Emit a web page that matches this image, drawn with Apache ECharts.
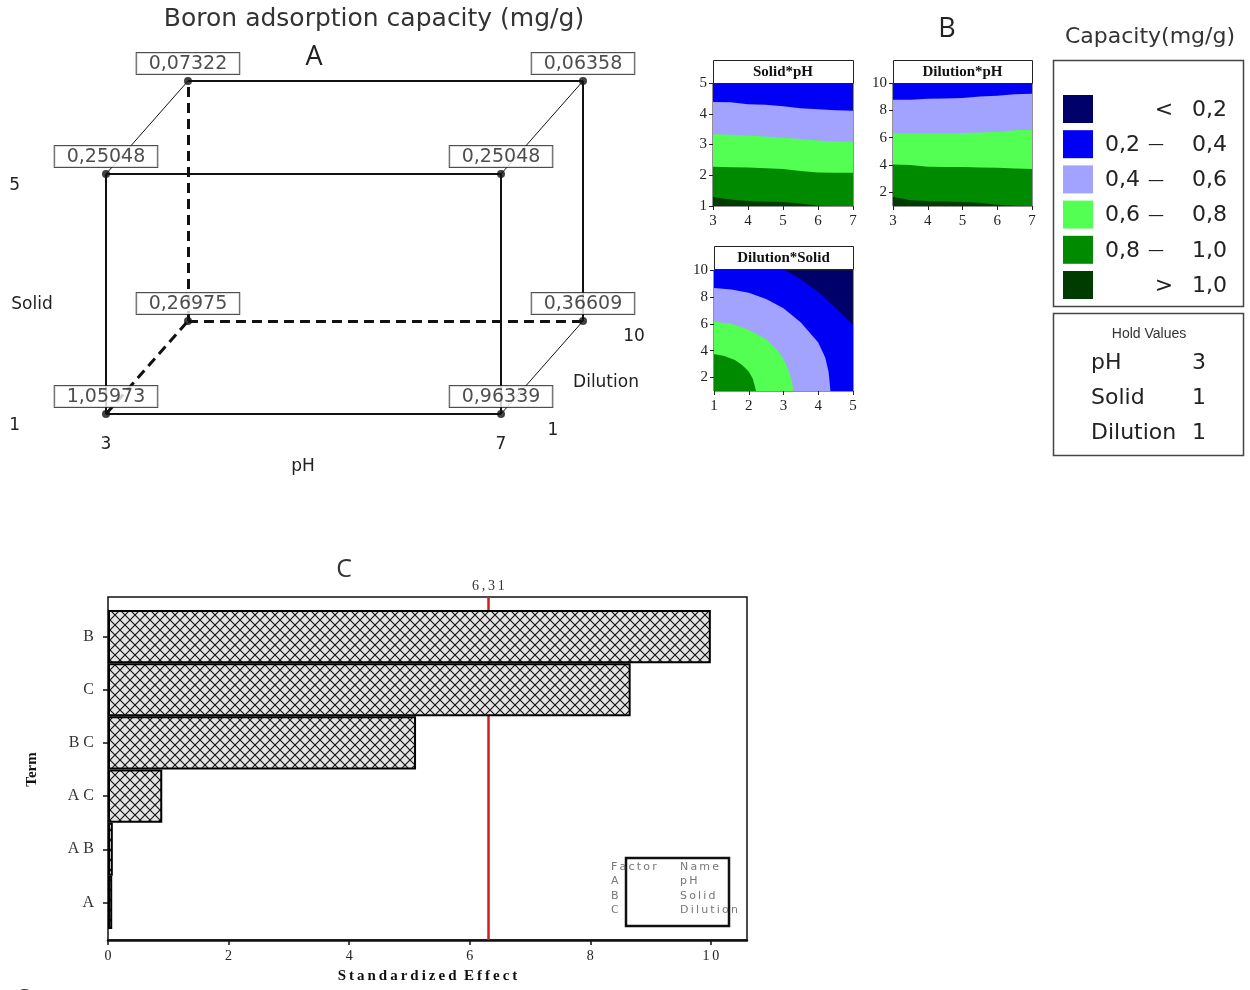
<!DOCTYPE html>
<html>
<head>
<meta charset="utf-8">
<script src="https://cdn.jsdelivr.net/npm/echarts@6/dist/echarts.min.js"></script>
<style>
  html, body { margin: 0; background: #fff; }
  #chart { width: 1250px; height: 990px; }
</style>
</head>
<body>
<div id="chart"></div>
<script>
// ---------- A: cube (pH, Solid, Dilution, capacity mg/g) ----------
const cubeCorners = [
  [3, 1, 1, 1.05973],
  [7, 1, 1, 0.96339],
  [3, 5, 1, 0.25048],
  [7, 5, 1, 0.25048],
  [3, 1, 10, 0.26975],
  [7, 1, 10, 0.36609],
  [3, 5, 10, 0.07322],
  [7, 5, 10, 0.06358]
]
const edgesSolid = [[0, 1], [0, 2], [1, 3], [2, 3], [6, 7], [5, 7]]
const edgesThin = [[2, 6], [3, 7], [1, 5]]
const edgesDashed = [[4, 6], [4, 5], [0, 4]]

// ---------- B: contour boundaries ----------
const bandColors = ['#00006b', '#0000f5', '#a2a2ff', '#52ff52', '#008a00', '#003c00']
const bandText = [['', '<', '0,2'], ['0,2', '—', '0,4'], ['0,4', '—', '0,6'], ['0,6', '—', '0,8'], ['0,8', '—', '1,0'], ['', '>', '1,0']]
const holdValues = [['pH', 3], ['Solid', 1], ['Dilution', 1]]

const phSamples = [3, 3.5, 4, 4.5, 5, 5.5, 6, 6.5, 7]
// Solid*pH : solid value of each contour level along pH
const solidPh04 = [4.38, 4.37, 4.31, 4.29, 4.24, 4.18, 4.15, 4.11, 4.10]
const solidPh06 = [3.33, 3.32, 3.29, 3.26, 3.22, 3.18, 3.13, 3.10, 3.09]
const solidPh08 = [2.28, 2.26, 2.25, 2.23, 2.20, 2.14, 2.09, 2.08, 2.08]
const solidPh10 = [1.29, 1.21, 1.16, 1.15, 1.13, 1.08, 1.01, 1.00, 1.00]
// Dilution*pH
const dilPh04 = [8.77, 8.77, 8.85, 8.87, 8.90, 9.02, 9.07, 9.17, 9.22]
const dilPh06 = [6.32, 6.32, 6.32, 6.32, 6.35, 6.37, 6.42, 6.54, 6.57]
const dilPh08 = [4.04, 4.00, 3.87, 3.85, 3.85, 3.82, 3.80, 3.75, 3.70]
const dilPh10 = [1.67, 1.42, 1.37, 1.34, 1.30, 1.23, 1.10, 1.02, 1.00]
// Dilution*Solid : [solid, dilution] points
const dilSolid02 = [[1, 10], [3.04, 10], [3.5, 9.3], [4, 8.35], [4.5, 7.2], [5, 5.9]]
const dilSolid04 = [[1, 8.66], [1.5, 8.55], [2, 8.3], [2.5, 7.85], [3, 7.15], [3.5, 6.1], [4, 4.6], [4.2, 3.5], [4.3, 2.4], [4.35, 1], [5, 1]]
const dilSolid06 = [[1, 6.16], [1.5, 6.0], [2, 5.55], [2.5, 4.85], [2.8, 4.1], [3, 3.4], [3.15, 2.5], [3.25, 1.6], [3.28, 1], [5, 1]]
const dilSolid08 = [[1, 3.76], [1.3, 3.6], [1.6, 3.3], [1.8, 2.95], [2, 2.45], [2.12, 1.9], [2.21, 1], [5, 1]]

// ---------- C: Pareto of standardized effects ----------
const terms = ['B', 'C', 'BC', 'AC', 'AB', 'A']
const effects = [10.0, 8.67, 5.11, 0.90, 0.08, 0.07]
const effectLimit = 6.31
const factorRows = [['Factor', 'Name'], ['A', 'pH'], ['B', 'Solid'], ['C', 'Dilution']]

const SANS = '"DejaVu Sans", sans-serif'
const TITLE = '"Open Sans", sans-serif'
const SERIF = '"Liberation Serif", serif'
const comma = v => String(v).replace('.', ',')
const spaced = s => s.split('').join('\u2009')

// oblique projection of the design cube onto a flat cartesian grid
const project = (ph, solid, dil) => [ph + (dil - 1) / 9 * 0.83, solid + (dil - 1) / 9 * 1.55]
const cornerPt = i => project(cubeCorners[i][0], cubeCorners[i][1], cubeCorners[i][2])
const edgeData = list => list.map(([a, b]) => ({ coords: [cornerPt(a), cornerPt(b)] }))

const hatch = document.createElement('canvas')
hatch.width = hatch.height = 10
;(() => {
  const ctx = hatch.getContext('2d')
  ctx.fillStyle = '#e4e4e4'
  ctx.fillRect(0, 0, 10, 10)
  ctx.strokeStyle = '#111'
  ctx.lineWidth = 1.1
  ctx.beginPath()
  ctx.moveTo(0, 0); ctx.lineTo(10, 10)
  ctx.moveTo(10, 0); ctx.lineTo(0, 10)
  ctx.stroke()
})()

const fill = (idx, points, color) => ({
  type: 'line', xAxisIndex: idx, yAxisIndex: idx, data: points,
  symbol: 'none', silent: true, lineStyle: { width: 0 },
  areaStyle: { color, opacity: 1, origin: 'start' }
})
const zipPh = vals => phSamples.map((p, i) => [p, vals[i]])

const contourAxisLabel = { fontFamily: SERIF, fontSize: 15, color: '#222', margin: 6 }
const contourTick = { show: true, length: 4, lineStyle: { color: '#222' } }
const contourX = (grid, min, max) => ({
  gridIndex: grid, type: 'value', min, max, interval: 1,
  axisLine: { show: false }, axisTick: contourTick, splitLine: { show: false },
  axisLabel: Object.assign({}, contourAxisLabel, { margin: 8 })
})
const contourY = (grid, min, max, custom) => ({
  gridIndex: grid, type: 'value', min, max, interval: 1,
  axisLine: { show: false }, splitLine: { show: false },
  axisTick: custom ? Object.assign({ customValues: custom }, contourTick) : contourTick,
  axisLabel: custom ? Object.assign({ customValues: custom }, contourAxisLabel) : contourAxisLabel
})

const txt = (x, y, text, font, extra) => ({
  type: 'text', x, y, silent: true,
  style: Object.assign({ text, font, fill: '#222', align: 'center', verticalAlign: 'middle' }, extra || {})
})

const graphics = [
  txt(374, 19, 'Boron adsorption capacity (mg/g)', '25px ' + SANS, { fill: '#333' }),
  txt(314, 57, 'A', '27px ' + TITLE),
  txt(947, 29, 'B', '27px ' + TITLE),
  txt(1150, 37, 'Capacity(mg/g)', '22px ' + SANS, { fill: '#333' }),
  txt(344, 570, 'C', '25px ' + TITLE, { fill: '#333' }),
  txt(22, 999, 'C', '24px ' + TITLE, { fill: '#333' }),
  txt(32, 305, 'Solid', '17px ' + SANS),
  txt(303, 467, 'pH', '17px ' + SANS),
  txt(634, 337, '10', '17px ' + SANS),
  txt(606, 383, 'Dilution', '17px ' + SANS),
  txt(553, 431, '1', '17px ' + SANS)
]

// contour panel headers
;[['Solid*pH', 713, 60, 140], ['Dilution*pH', 893, 60, 139], ['Dilution*Solid', 714, 246, 139]].forEach(([t, x, y, w]) => {
  graphics.push({ type: 'rect', shape: { x: x + 0.5, y: y + 0.5, width: w, height: 23 }, style: { fill: '#fff', stroke: '#222', lineWidth: 1 } })
  graphics.push(txt(x + w / 2, y + 12, t, 'bold 15px ' + SERIF, { fill: '#111' }))
})

// capacity legend
graphics.push({ type: 'rect', shape: { x: 1053.5, y: 60.5, width: 190, height: 246 }, style: { fill: 'none', stroke: '#444', lineWidth: 1.5 } })
bandColors.forEach((c, i) => {
  const y = 95 + i * 35.2
  graphics.push({ type: 'rect', shape: { x: 1063, y, width: 30, height: 28 }, style: { fill: c } })
  const [lo, sep, hi] = bandText[i]
  if (lo) graphics.push(txt(1105, y + 15, lo, '22px ' + SANS, { align: 'left' }))
  graphics.push(txt(lo ? 1156 : 1164, y + 15, sep, (lo ? '16px ' : '22px ') + SANS))
  graphics.push(txt(1227, y + 15, hi, '22px ' + SANS, { align: 'right' }))
})

// hold values box
graphics.push({ type: 'rect', shape: { x: 1053.5, y: 313.5, width: 190, height: 142 }, style: { fill: 'none', stroke: '#444', lineWidth: 1.5 } })
graphics.push(txt(1149, 334, 'Hold Values', '14px "Liberation Sans", sans-serif', { fill: '#333' }))
holdValues.forEach(([name, v], i) => {
  const y = 363 + i * 35
  graphics.push(txt(1091, y, name, '22px ' + SANS, { align: 'left' }))
  graphics.push(txt(1206, y, String(v), '22px ' + SANS, { align: 'right' }))
})

// factor key inside panel C
graphics.push({ type: 'rect', shape: { x: 626, y: 858, width: 103, height: 68 }, style: { fill: 'none', stroke: '#111', lineWidth: 2.5 } })
factorRows.forEach(([f, n], i) => {
  const y = 867 + i * 14.5
  graphics.push(txt(611, y, spaced(f), '11px ' + SANS, { align: 'left', fill: '#777' }))
  graphics.push(txt(680, y, spaced(n), '11px ' + SANS, { align: 'left', fill: '#777' }))
})

const option = {
  animation: false,
  backgroundColor: '#fff',
  grid: [
    { left: 106, top: 81, width: 477, height: 333 },
    { left: 713, top: 83, width: 140, height: 123, show: true, backgroundColor: bandColors[1], borderColor: '#222', borderWidth: 1 },
    { left: 893, top: 83, width: 139, height: 123, show: true, backgroundColor: bandColors[1], borderColor: '#222', borderWidth: 1 },
    { left: 714, top: 270, width: 139, height: 121, show: true, backgroundColor: bandColors[0], borderColor: '#222', borderWidth: 1 },
    { left: 108, top: 597, width: 639, height: 343, show: true, borderColor: '#111', borderWidth: 1.5 },
    { left: 108, top: 610, width: 639, height: 319 }
  ],
  xAxis: [
    {
      gridIndex: 0, type: 'value', min: 3, max: 7.83, interval: 4,
      axisLine: { show: false }, axisTick: { show: false }, splitLine: { show: false },
      axisLabel: { showMaxLabel: false, margin: 22, fontFamily: SANS, fontSize: 17, color: '#222' }
    },
    contourX(1, 3, 7),
    contourX(2, 3, 7),
    contourX(3, 1, 5),
    {
      gridIndex: 4, type: 'value', min: 0, max: 10.6, interval: 2,
      axisLine: { show: true, lineStyle: { color: '#111', width: 2.5 } },
      axisTick: { show: true, length: 5, lineStyle: { color: '#111', width: 1.5 } },
      splitLine: { show: false },
      axisLabel: { showMaxLabel: false, margin: 9, fontFamily: SERIF, fontSize: 14, color: '#222',
        formatter: v => spaced(String(v)) },
      name: spaced('Standardized') + '\u2002' + spaced('Effect'),
      nameLocation: 'middle', nameGap: 29,
      nameTextStyle: { fontFamily: SERIF, fontWeight: 'bold', fontSize: 15, color: '#111' }
    },
    { gridIndex: 5, type: 'value', min: 0, max: 10.6, show: false }
  ],
  yAxis: [
    {
      gridIndex: 0, type: 'value', min: 1, max: 6.55, interval: 4,
      axisLine: { show: false }, axisTick: { show: false }, splitLine: { show: false },
      axisLabel: { showMaxLabel: false, margin: 86, verticalAlign: 'top', padding: [3, 0, 0, 0],
        fontFamily: SANS, fontSize: 17, color: '#222' }
    },
    contourY(1, 1, 5),
    contourY(2, 1, 10, [2, 4, 6, 8, 10]),
    contourY(3, 1, 10, [2, 4, 6, 8, 10]),
    { gridIndex: 4, type: 'value', min: 0, max: 1, show: false },
    {
      gridIndex: 5, type: 'category', data: terms, inverse: true,
      axisLine: { show: false },
      axisTick: { show: true, alignWithLabel: true, length: 5, lineStyle: { color: '#111', width: 1.5 } },
      axisLabel: { margin: 14, fontFamily: SERIF, fontSize: 16, color: '#333', formatter: t => t.split('').join(' ') },
      name: 'Term', nameLocation: 'middle', nameGap: 68,
      nameTextStyle: { fontFamily: SERIF, fontWeight: 'bold', fontSize: 15, color: '#111' }
    }
  ],
  series: [
    // cube edges
    { type: 'lines', coordinateSystem: 'cartesian2d', xAxisIndex: 0, yAxisIndex: 0, z: 2, silent: true,
      data: edgeData(edgesSolid), lineStyle: { color: '#111', width: 2, opacity: 1 } },
    { type: 'lines', coordinateSystem: 'cartesian2d', xAxisIndex: 0, yAxisIndex: 0, z: 2, silent: true,
      data: edgeData(edgesThin), lineStyle: { color: '#111', width: 1, opacity: 1 } },
    { type: 'lines', coordinateSystem: 'cartesian2d', xAxisIndex: 0, yAxisIndex: 0, z: 2, silent: true,
      data: edgeData(edgesDashed), lineStyle: { color: '#111', width: 3, opacity: 1, type: [10, 6] } },
    // cube corners with responses
    {
      type: 'scatter', xAxisIndex: 0, yAxisIndex: 0, z: 4, symbolSize: 8,
      itemStyle: { color: '#111' },
      data: cubeCorners.map(c => project(c[0], c[1], c[2]).concat(c[3])),
      label: {
        show: true, position: 'top', distance: 3,
        formatter: p => comma(p.value[2].toFixed(5)),
        fontFamily: SANS, fontSize: 19, lineHeight: 20, color: '#222',
        backgroundColor: '#fff', borderColor: '#222', borderWidth: 1, padding: [1, 12, 0, 12]
      }
    },
    // Solid*pH
    fill(1, zipPh(solidPh04), bandColors[2]),
    fill(1, zipPh(solidPh06), bandColors[3]),
    fill(1, zipPh(solidPh08), bandColors[4]),
    fill(1, zipPh(solidPh10), bandColors[5]),
    // Dilution*pH
    fill(2, zipPh(dilPh04), bandColors[2]),
    fill(2, zipPh(dilPh06), bandColors[3]),
    fill(2, zipPh(dilPh08), bandColors[4]),
    fill(2, zipPh(dilPh10), bandColors[5]),
    // Dilution*Solid
    fill(3, dilSolid02, bandColors[1]),
    fill(3, dilSolid04, bandColors[2]),
    fill(3, dilSolid06, bandColors[3]),
    fill(3, dilSolid08, bandColors[4]),
    // critical effect line (kept behind the bars)
    {
      type: 'line', xAxisIndex: 4, yAxisIndex: 4, data: [], z: 1,
      markLine: {
        z: 1, silent: true, symbol: ['none', 'none'],
        lineStyle: { color: '#cc1f1f', width: 2.5, type: 'solid' },
        label: { show: true, position: 'end', distance: 4, formatter: spaced(comma(effectLimit)),
          fontFamily: SERIF, fontSize: 14, color: '#333' },
        data: [{ xAxis: effectLimit }]
      }
    },
    // effect bars
    {
      type: 'bar', xAxisIndex: 5, yAxisIndex: 5, z: 3, data: effects,
      barCategoryGap: '0%',
      itemStyle: { color: { image: hatch, repeat: 'repeat' }, borderColor: '#000', borderWidth: 2 }
    }
  ],
  graphic: graphics
}

const chart = echarts.init(document.getElementById('chart'))
chart.setOption(option)
</script>
</body>
</html>
